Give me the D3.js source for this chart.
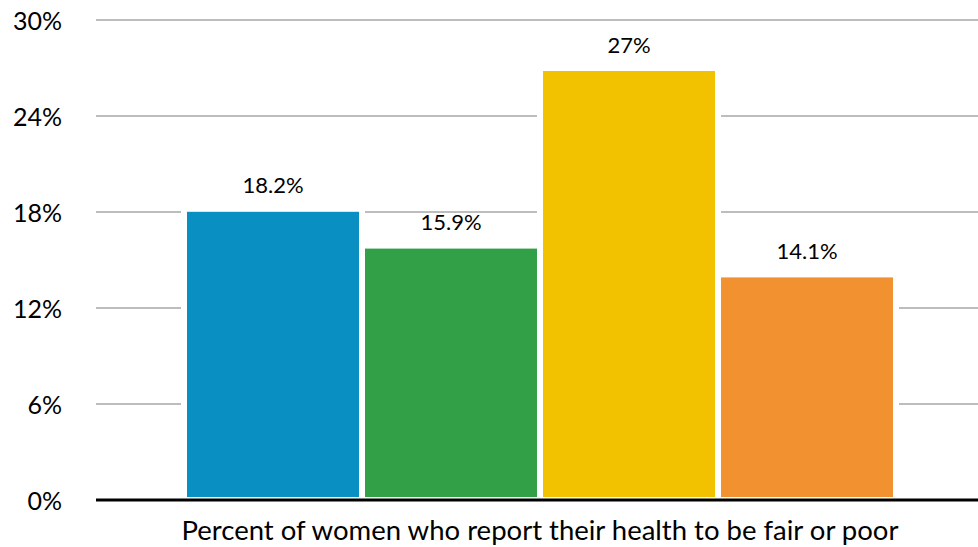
<!DOCTYPE html>
<html>
<head>
<meta charset="utf-8">
<script src="https://cdn.jsdelivr.net/npm/d3@7"></script>
<style>
  html, body { margin: 0; padding: 0; background: #fff; }
  svg { display: block; font-family: Lato, "Noto Sans", sans-serif; }
</style>
</head>
<body>
<svg id="chart" width="978" height="547"></svg>
<script>
const categories = ["A", "B", "C", "D"];
const values = [18.2, 15.9, 27, 14.1];
const valueLabels = ["18.2%", "15.9%", "27%", "14.1%"];
const colors = ["#0a8fc2", "#31a046", "#f2c100", "#f29130"];
const yTicks = [0, 6, 12, 18, 24, 30];
const xAxisLabel = "Percent of women who report their health to be fair or poor";

const svg = d3.select("#chart");
const plotLeft = 96, plotRight = 978;

const y = d3.scaleLinear().domain([0, 30]).range([500, 20]);
const x = d3.scaleBand().domain(categories).range([184, 896]).padding(0);

// gridlines
svg.append("g").selectAll("line")
  .data(yTicks.filter(t => t > 0))
  .join("line")
  .attr("x1", plotLeft).attr("x2", plotRight)
  .attr("y1", d => y(d)).attr("y2", d => y(d))
  .attr("stroke", "#bdbdbd").attr("stroke-width", 2);

// y axis labels
const yAxis = d3.axisLeft(y).tickValues(yTicks).tickFormat(d => d + "%").tickSize(0).tickPadding(0);
const yg = svg.append("g").attr("transform", "translate(62,0)").call(yAxis);
yg.select(".domain").remove();
yg.selectAll("text")
  .attr("font-family", "Lato, 'Noto Sans', sans-serif")
  .attr("font-size", 25)
  .attr("fill", "#000")
  .attr("dy", "0.38em");

// bars
svg.append("g").selectAll("rect")
  .data(values)
  .join("rect")
  .attr("x", (d, i) => x(categories[i]))
  .attr("width", x.bandwidth())
  .attr("y", d => y(d))
  .attr("height", d => y(0) - y(d))
  .attr("fill", (d, i) => colors[i])
  .attr("stroke", "#fff")
  .attr("stroke-width", 6);

// baseline
svg.append("line")
  .attr("x1", plotLeft).attr("x2", plotRight)
  .attr("y1", y(0)).attr("y2", y(0))
  .attr("stroke", "#000").attr("stroke-width", 3);

// value labels
svg.append("g").selectAll("text")
  .data(values)
  .join("text")
  .attr("x", (d, i) => x(categories[i]) + x.bandwidth() / 2)
  .attr("y", d => y(d) - 15.5)
  .attr("text-anchor", "middle")
  .attr("font-size", 22)
  .attr("fill", "#000")
  .text((d, i) => valueLabels[i]);

// x axis label
svg.append("text")
  .attr("x", (x.range()[0] + x.range()[1]) / 2)
  .attr("y", 540)
  .attr("text-anchor", "middle")
  .attr("font-size", 27.5)
  .attr("fill", "#000")
  .text(xAxisLabel);
</script>
</body>
</html>
